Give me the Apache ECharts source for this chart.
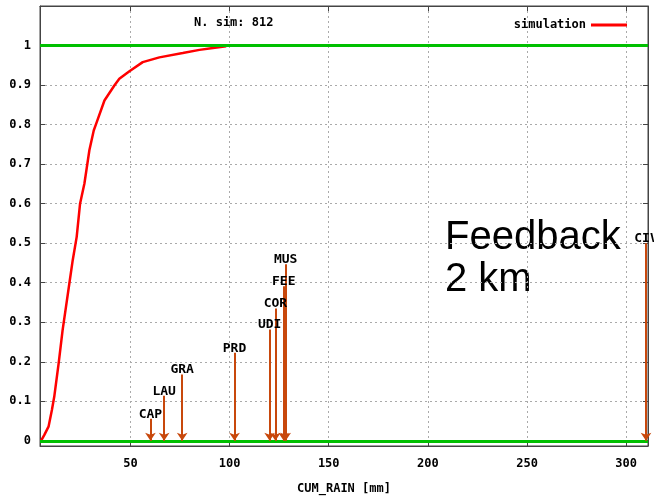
<!DOCTYPE html>
<html>
<head>
<meta charset="utf-8">
<script src="https://cdn.jsdelivr.net/npm/echarts@6/dist/echarts.min.js"></script>
<style>
  html, body { margin: 0; padding: 0; background: #fff; }
  #chart { width: 654px; height: 500px; }
</style>
</head>
<body>
<div id="chart"></div>
<script>
// empirical CDF of cumulated rain (simulation)
var cdfRain = [4.9, 6.6, 8.7, 10.4, 11.6, 13.8, 15.8, 17.5, 19.2, 20.9, 22.9, 24.6, 26.8, 29.3, 31.5, 32.7, 36.9, 41.9, 44.4, 49.5, 56.2, 64.6, 76.4, 84.8, 91.6, 98.3]
var cdfProb = [0, 0.015, 0.036, 0.078, 0.112, 0.196, 0.28, 0.339, 0.398, 0.457, 0.516, 0.6, 0.651, 0.735, 0.785, 0.802, 0.861, 0.899, 0.916, 0.935, 0.958, 0.97, 0.981, 0.989, 0.994, 0.998]

// observed stations (arrows)
var stations = ['CAP', 'LAU', 'GRA', 'PRD', 'UDI', 'COR', 'FEE', 'MUS', 'CIV']
var stationRain = [60.1, 67.0, 76.1, 102.5, 120.2, 123.1, 127.3, 128.3, 310]
var stationHeight = [0.056, 0.114, 0.168, 0.223, 0.282, 0.335, 0.391, 0.447, 0.5]

// reference levels
var refLevels = [0, 1]

// ticks
var xTicks = [50, 100, 150, 200, 250, 300]
var yTicks = [0, 0.1, 0.2, 0.3, 0.4, 0.5, 0.6, 0.7, 0.8, 0.9, 1]
var yTickLabels = ['0', '0.1', '0.2', '0.3', '0.4', '0.5', '0.6', '0.7', '0.8', '0.9', '1']

var mono = '"DejaVu Sans Mono", monospace'
var gridLine = { show: true, lineStyle: { color: '#aaa', type: [2, 3], width: 1 } }

var chart = echarts.init(document.getElementById('chart'))

var cdfData = cdfRain.map(function (x, i) { return [x, cdfProb[i]] })

var arrowLines = stations.map(function (name, i) {
  return [
    { coord: [stationRain[i], stationHeight[i]], name: name },
    { coord: [stationRain[i], 0] }
  ]
})

chart.setOption({
  animation: false,
  title: {
    text: 'N. sim: 812',
    left: 189,
    top: 12,
    textStyle: { fontFamily: mono, fontSize: 12, fontWeight: 'bold', color: '#000' }
  },
  legend: {
    data: ['simulation'],
    right: 22,
    top: 14,
    align: 'right',
    itemWidth: 36,
    itemHeight: 3,
    icon: 'rect',
    textStyle: { fontFamily: mono, fontSize: 12, fontWeight: 'bold', color: '#000' }
  },
  grid: {
    left: 40,
    right: 6,
    top: 6,
    bottom: 54,
    show: true,
    borderColor: '#444',
    borderWidth: 1
  },
  graphic: [{
    type: 'text',
    left: 445,
    top: 217,
    style: {
      text: 'Feedback\n2 km',
      font: '40px "Liberation Sans", Arial, sans-serif',
      lineHeight: 42,
      fill: '#000'
    }
  }],
  xAxis: [{
    type: 'value',
    min: 4.4,
    max: 311,
    name: 'CUM_RAIN [mm]',
    nameLocation: 'middle',
    nameGap: 37,
    nameTextStyle: { fontFamily: mono, fontSize: 12, fontWeight: 'bold', color: '#000' },
    axisLine: { show: true, onZero: false, lineStyle: { color: '#444' } },
    axisTick: { show: true, inside: true, length: 5, customValues: xTicks, lineStyle: { color: '#444' } },
    axisLabel: { customValues: xTicks, margin: 12, fontFamily: mono, fontSize: 12, fontWeight: 'bold', color: '#000' },
    splitLine: gridLine
  }, {
    type: 'value',
    position: 'top',
    min: 4.4,
    max: 311,
    axisLine: { show: true, onZero: false, lineStyle: { color: '#444' } },
    axisTick: { show: true, inside: true, length: 5, customValues: xTicks, lineStyle: { color: '#444' } },
    axisLabel: { show: false },
    splitLine: { show: false }
  }],
  yAxis: [{
    type: 'value',
    min: -0.013,
    max: 1.1,
    axisLine: { show: true, onZero: false, lineStyle: { color: '#444' } },
    axisTick: { show: true, inside: true, length: 5, customValues: yTicks, lineStyle: { color: '#444' } },
    axisLabel: {
      customValues: yTicks,
      margin: 9,
      fontFamily: mono,
      fontSize: 12,
      fontWeight: 'bold',
      color: '#000',
      formatter: function (v) {
        var i = yTicks.indexOf(+v.toFixed(1))
        return i >= 0 ? yTickLabels[i] : ''
      }
    },
    splitLine: gridLine
  }, {
    type: 'value',
    position: 'right',
    min: -0.013,
    max: 1.1,
    axisLine: { show: true, onZero: false, lineStyle: { color: '#444' } },
    axisTick: { show: true, inside: true, length: 5, customValues: yTicks, lineStyle: { color: '#444' } },
    axisLabel: { show: false },
    splitLine: { show: false }
  }],
  series: [
    {
      name: 'reference',
      type: 'line',
      data: [],
      markLine: {
        silent: true,
        symbol: ['none', 'none'],
        label: { show: false },
        lineStyle: { color: '#00c000', width: 3, type: 'solid' },
        data: refLevels.map(function (v) { return { yAxis: v } })
      }
    },
    {
      name: 'stations',
      type: 'line',
      data: [],
      markLine: {
        silent: true,
        symbol: ['none', 'arrow'],
        symbolSize: 8,
        lineStyle: { color: '#c8480c', width: 2, type: 'solid' },
        label: {
          show: true,
          position: 'start',
          distance: -2,
          formatter: '{b}',
          fontFamily: mono,
          fontSize: 13,
          fontWeight: 'bold',
          color: '#000'
        },
        data: arrowLines
      }
    },
    {
      name: 'simulation',
      type: 'line',
      data: cdfData,
      showSymbol: false,
      symbol: 'none',
      color: '#ff0000',
      lineStyle: { color: '#ff0000', width: 2.5 }
    }
  ]
})
</script>
</body>
</html>
